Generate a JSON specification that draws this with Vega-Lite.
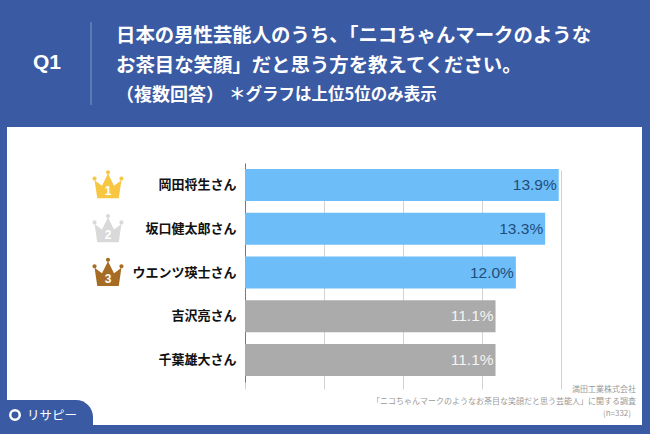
{
"$schema":"https://vega.github.io/schema/vega-lite/v6.json",
"width":635,"height":298,
"autosize":{"type":"none"},
"padding":{"left":7,"top":127,"right":8,"bottom":9},
"background":"#3A5AA3",
"config":{"view":{"fill":"#FFFFFF","stroke":null},"font":"Noto Sans CJK JP"},
"title":{"text":["日本の男性芸能人のうち、「ニコちゃんマークのような","お茶目な笑顔」だと思う方を教えてください。"],
"subtitle":"（複数回答）",
"frame":"group","anchor":"start","dx":109,"offset":-84,"fontSize":19.4,"fontWeight":"bold","color":"#FFFFFF","lineHeight":30,
"subtitleFontSize":18,"subtitleFontWeight":"bold","subtitleColor":"#FFFFFF","subtitlePadding":10,"font":"Noto Sans CJK JP","subtitleFont":"Noto Sans CJK JP"},
"data":{"values":[
{"name":"岡田将生さん","value":13.9,"label":"13.9%","group":"上位","rank":1},
{"name":"坂口健太郎さん","value":13.3,"label":"13.3%","group":"上位","rank":2},
{"name":"ウエンツ瑛士さん","value":12.0,"label":"12.0%","group":"上位","rank":3},
{"name":"吉沢亮さん","value":11.1,"label":"11.1%","group":"その他","rank":4},
{"name":"千葉雄大さん","value":11.1,"label":"11.1%","group":"その他","rank":5}
]},
"encoding":{
"y":{"field":"name","type":"nominal","sort":null,"title":null,
"scale":{"range":[36,255],"paddingInner":0.27,"paddingOuter":0.135},
"axis":{"orient":"left","offset":-238,"domainColor":"#777777","domainWidth":1,"ticks":false,"labelPadding":9,"labelFontSize":13,"labelFontWeight":"bold","labelColor":"#111111","labelFont":"Noto Sans CJK JP","grid":false,"labelLimit":200}}
},
"layer":[
{"mark":{"type":"bar"},
"encoding":{
"x":{"field":"value","type":"quantitative","title":null,
"scale":{"domain":[0,14],"range":[238,554],"nice":false,"zero":false},
"axis":{"values":[0,3.5,7,10.5,14],"labels":false,"ticks":false,"domain":false,"grid":true,"gridColor":"#D2D2D2","gridWidth":1}},
"color":{"field":"group","type":"nominal","legend":null,"scale":{"domain":["上位","その他"],"range":["#6DBDF9","#ABABAB"]}}
}},
{"mark":{"type":"text","align":"right","dx":-2,"fontSize":15.5,"font":"Liberation Sans"},
"encoding":{
"x":{"field":"value","type":"quantitative"},
"text":{"field":"label"},
"color":{"field":"group","type":"nominal","legend":null,"scale":{"domain":["上位","その他"],"range":["#1F4E79","#F4F4F4"]}}
}},
{"transform":[{"filter":"datum.rank<=3"}],
"mark":{"type":"point","filled":true,"size":1000,"opacity":1,"shape":"M-0.68,0.85 L-0.85,-0.3 L-0.38,0.05 L0,-0.72 L0.38,0.05 L0.85,-0.3 L0.68,0.85 Z M-0.98,-0.4 a0.13,0.13 0 1 0 0.26,0 a0.13,0.13 0 1 0 -0.26,0 Z M0.72,-0.4 a0.13,0.13 0 1 0 0.26,0 a0.13,0.13 0 1 0 -0.26,0 Z M-0.13,-0.8 a0.13,0.13 0 1 0 0.26,0 a0.13,0.13 0 1 0 -0.26,0 Z"},
"encoding":{
"x":{"value":101},
"yOffset":{"condition":{"test":"datum.rank==3","value":12},"value":16},
"color":{"field":"rank","type":"nominal","legend":null,"scale":{"domain":[1,2,3],"range":["#F7C744","#D9D9D9","#A66C24"]}}
}},
{"transform":[{"filter":"datum.rank<=3"}],
"mark":{"type":"text","fontSize":12,"fontWeight":"bold","color":"#FFFFFF","dy":6,"font":"Liberation Sans"},
"encoding":{"x":{"value":101},"yOffset":{"condition":{"test":"datum.rank==3","value":12},"value":16},"text":{"field":"rank"}}},
{"data":{"values":[{"t":"Q1"}]},
"mark":{"type":"text","fontSize":21,"fontWeight":"bold","color":"#FFFFFF","align":"center","baseline":"middle","font":"Liberation Sans"},
"encoding":{"y":{"value":-64},"x":{"value":40},"text":{"field":"t"}}},
{"data":{"values":[{"t":"divider"}]},
"mark":{"type":"rule","color":"#8296C6","strokeWidth":1},
"encoding":{"x":{"value":84},"y":{"value":-105},"y2":{"value":-22}}},
{"data":{"values":[{"t":"＊グラフは上位5位のみ表示"}]},
"mark":{"type":"text","fontSize":16.5,"fontWeight":"bold","color":"#FFFFFF","align":"left","baseline":"alphabetic"},
"encoding":{"x":{"value":222},"y":{"value":-27},"text":{"field":"t"}}},
{"data":{"values":[{"t":"満田工業株式会社"}]},
"mark":{"type":"text","fontSize":8,"color":"#999999","align":"right","baseline":"middle"},
"encoding":{"x":{"value":629},"y":{"value":263},"text":{"field":"t"}}},
{"data":{"values":[{"t":"「ニコちゃんマークのようなお茶目な笑顔だと思う芸能人」に関する調査"}]},
"mark":{"type":"text","fontSize":8,"color":"#999999","align":"right","baseline":"middle"},
"encoding":{"x":{"value":629},"y":{"value":275},"text":{"field":"t"}}},
{"data":{"values":[{"t":"(n=332)"}]},
"mark":{"type":"text","fontSize":8,"color":"#999999","align":"right","baseline":"middle"},
"encoding":{"x":{"value":624},"y":{"value":287},"text":{"field":"t"}}},
{"data":{"values":[{"t":"logo tab"}]},
"mark":{"type":"rect","color":"#3A5AA3","cornerRadiusTopRight":24},
"encoding":{"x":{"value":-7},"x2":{"value":86},"y":{"value":273},"y2":{"value":307}}},
{"data":{"values":[{"t":"リサピー"}]},
"mark":{"type":"text","fontSize":12.5,"fontWeight":"normal","color":"#FFFFFF","align":"left","baseline":"middle"},
"encoding":{"x":{"value":20},"y":{"value":289},"text":{"field":"t"}}},
{"data":{"values":[{"t":"logo pin"}]},
"mark":{"type":"point","filled":false,"size":90,"shape":"circle","stroke":"#FFFFFF","strokeWidth":2.5,"opacity":1},
"encoding":{"x":{"value":8},"y":{"value":288}}}
],
"resolve":{"scale":{"color":"independent"}}
}
